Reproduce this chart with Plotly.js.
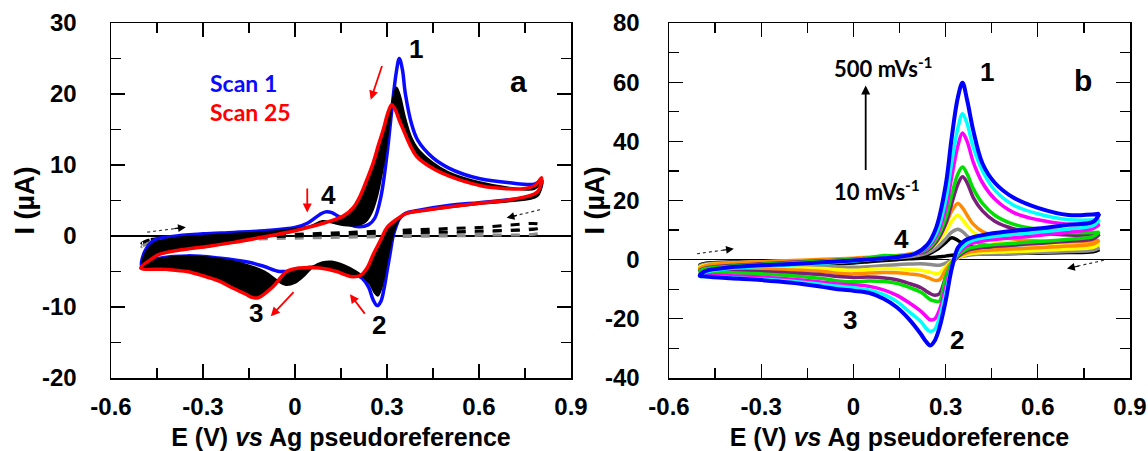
<!DOCTYPE html>
<html><head><meta charset="utf-8">
<script src="https://cdn.plot.ly/plotly-3.0.1.min.js"></script>
<style>html,body{margin:0;padding:0;background:#fff}#chart{width:1148px;height:451px}</style>
</head><body><div id="chart"></div>
<script>
// ---------- Panel a : repetitive scans ----------
const scan1E = [-0.5,-0.49,-0.46,-0.4,-0.3,-0.2,-0.1,0,0.04,0.08,0.1,0.12,0.15,0.18,0.21,0.24,0.26,0.28,0.3,0.315,0.33,0.34,0.35,0.36,0.38,0.4,0.45,0.5,0.55,0.6,0.7,0.78,0.805,0.79,0.75,0.7,0.6,0.5,0.4,0.36,0.34,0.33,0.32,0.31,0.3,0.29,0.28,0.268,0.255,0.24,0.22,0.2,0.15,0.1,0.05,0,-0.05,-0.1,-0.15,-0.25,-0.35,-0.45,-0.48,-0.5];
const scan1I = [-4.2,-2.2,-0.6,-0.05,0.3,0.5,0.75,1.2,1.8,3.0,3.4,3.3,2.5,1.6,1.3,1.6,2.5,5.5,11.5,17.5,23,25,23.5,20,15.8,13.5,11,9.6,8.7,8.1,7.5,7.3,7.8,6.0,5.4,5.1,4.7,4.3,3.6,3.2,2.4,1.4,0,-2.5,-5,-7.5,-9.2,-9.8,-9.0,-7.2,-6.0,-5.4,-4.6,-4.2,-4.4,-4.8,-5.0,-4.3,-3.7,-3.1,-2.8,-3.2,-3.7,-4.2];

const scan2E = [-0.5,-0.49,-0.46,-0.4,-0.3,-0.2,-0.1,0,0.05,0.09,0.12,0.16,0.2,0.23,0.25,0.27,0.29,0.305,0.32,0.331,0.342,0.36,0.38,0.4,0.45,0.5,0.6,0.7,0.78,0.805,0.79,0.7,0.6,0.5,0.4,0.36,0.34,0.325,0.31,0.3,0.29,0.28,0.27,0.26,0.245,0.225,0.2,0.16,0.12,0.09,0.06,0.03,0,-0.03,-0.06,-0.1,-0.17,-0.25,-0.35,-0.45,-0.48,-0.5];
const scan2I = [-4.3,-2.6,-1.0,-0.35,0.05,0.3,0.55,1.0,1.4,2.1,1.9,1.5,1.5,2.0,3.3,6.0,10.5,15.0,19.5,20.9,19.8,16.5,13.8,12.3,10.3,9.0,7.6,6.8,6.6,7.6,5.6,4.9,4.5,4.0,3.4,3.1,2.4,1.0,-1.5,-3.5,-5.8,-7.6,-8.4,-8.0,-6.8,-5.8,-5.0,-4.1,-3.6,-3.7,-4.3,-5.6,-6.6,-6.9,-6.2,-5.0,-3.9,-3.2,-2.9,-3.3,-3.8,-4.3];

const scan25E = [-0.503,-0.47,-0.443,-0.38,-0.28,-0.2,-0.117,0,0.05,0.1,0.157,0.19,0.212,0.235,0.255,0.272,0.288,0.302,0.315,0.327,0.34,0.353,0.375,0.397,0.45,0.505,0.56,0.614,0.68,0.744,0.785,0.804,0.79,0.7,0.6,0.5,0.42,0.364,0.33,0.3,0.28,0.255,0.235,0.215,0.19,0.16,0.136,0.08,0.016,-0.027,-0.071,-0.12,-0.14,-0.16,-0.2,-0.245,-0.3,-0.353,-0.42,-0.503];
const scan25I = [-4.5,-3.3,-2.6,-2.0,-1.43,-0.9,-0.25,0.75,1.3,1.9,2.8,4.0,5.6,8.0,10.3,12.8,15,17.2,18.5,17.8,16.3,15,12.8,11.2,9.5,8.4,7.6,7.0,6.7,6.65,7.2,8.2,6.2,5.1,4.6,4.1,3.6,3.2,2.3,1.2,-0.5,-2.6,-4.5,-5.5,-5.75,-5.4,-5.0,-4.5,-4.5,-5.0,-7.1,-8.7,-8.65,-8.2,-7.4,-6.4,-5.6,-5.0,-4.7,-4.5];

const blankE = [-0.5,-0.47,-0.4,-0.2,0,0.2,0.4,0.6,0.8,0.8,0.6,0.4,0.2,0,-0.2,-0.4,-0.47,-0.5];
const blankBlackI = [-1.0,-0.5,-0.25,0.0,0.25,0.55,0.9,1.2,1.6,1.2,0.7,0.5,0.3,0.0,-0.25,-0.5,-0.7,-1.0];
const blankGrayI = [-1.5,-0.9,-0.6,-0.35,-0.15,0.05,0.2,0.45,0.9,0.5,0.1,-0.05,-0.15,-0.3,-0.5,-0.8,-1.1,-1.5];

// ---------- Panel b : scan rates 10 - 500 mV/s ----------
const rateEfwd = [-0.5,-0.48,-0.4,-0.3,-0.2,-0.1,0,0.05,0.1,0.15,0.2,0.24,0.27,0.3,0.32,0.34,0.355,0.37,0.39,0.42,0.46,0.52,0.6,0.7,0.8];
const rateErev = [0.8,0.78,0.7,0.6,0.5,0.42,0.38,0.36,0.34,0.32,0.3,0.28,0.265,0.25,0.235,0.22,0.18,0.14,0.1,0.05,0,-0.05,-0.1,-0.2,-0.3,-0.4,-0.48,-0.5];
const rateColors = ['#000000','#8c8c8c','#ffff00','#ff8c00','#7a1f7a','#00e000','#ff00ff','#00ffff','#0000ff'];
const rateFwd = [
 [-1.8,-1.2,-0.8,-0.6,-0.5,-0.7,-0.5,-0.2,0.1,0.4,0.9,1.7,3.3,5.8,7.4,6.5,5.5,4.8,4.2,3.6,3.2,3.0,2.9,2.9,3.4],
 [-2.0,-1.5,-1.0,-0.7,-0.5,-0.3,-0.1,0.1,0.4,0.7,1.2,2.2,4,7,9.3,10.3,9.5,8,6.5,5.2,4.4,4.0,3.7,3.6,4.0],
 [-2.5,-1.8,-1.2,-0.8,-0.5,-0.2,0.2,0.5,0.8,1.2,1.8,3,5.5,9.5,13,15,13.5,11.5,9.3,7.5,6.2,5.5,5.0,4.8,5.3],
 [-3.0,-2.0,-1.2,-0.7,-0.3,0.1,0.5,0.8,1.1,1.5,2.3,3.8,7,12,16.5,19,17.5,15,12,9.5,8,7,6.3,6.0,6.5],
 [-3.6,-2.8,-2.0,-1.4,-0.9,-0.4,0.1,0.5,0.9,1.1,1.8,3,6,12,19,25.5,28,26,21,16.5,13,10.5,9.2,8.3,8.5],
 [-4.0,-3.0,-2.2,-1.6,-1.1,-0.5,0.1,0.6,1.4,1.2,2.0,3.5,7,14,22,29,31.3,29,24,19,15,12,10.3,9.2,9.3],
 [-5.0,-3.8,-2.7,-2.0,-1.5,-1.0,-0.3,0.1,0.5,1.0,2.0,4,8,17,28,38.5,42.8,40,33,26,20.5,16,13.5,12,12],
 [-5.6,-4.2,-3.0,-2.3,-1.8,-1.2,-0.5,0,0.5,1.0,2.0,4.5,9,20,33,44.5,49.3,46,38,30,23.5,18.5,15.5,13.5,13.5],
 [-5.4,-3.8,-2.6,-1.9,-1.45,-0.9,-0.3,0.1,0.5,1.0,2.0,5.0,11,25,41.4,54.9,59.8,54,43.7,32.5,26,21,17.5,15.1,15.5]
];
const rateRev = [
 [3.4,2.7,2.4,2.2,2.0,1.9,1.9,1.8,1.8,1.5,1.2,1.0,0.8,0.7,0.6,0.5,0.3,0.0,-0.3,-0.7,-1.1,-1.3,-1.1,-1.0,-1.1,-1.3,-1.6,-1.8],
 [4.0,3.2,2.8,2.4,2.1,1.9,1.6,1.2,0.6,-0.2,-1.2,-1.9,-1.8,-1.6,-1.5,-1.4,-1.5,-1.7,-2.0,-2.4,-2.6,-2.4,-2.0,-1.9,-1.9,-1.9,-2.0,-2.0],
 [5.3,4.2,3.6,3.1,2.7,2.4,2.0,1.5,0.6,-0.6,-2.5,-4.5,-4.6,-4.2,-3.9,-3.6,-3.3,-3.1,-3.0,-3.3,-3.6,-3.4,-3.0,-2.7,-2.6,-2.5,-2.5,-2.5],
 [6.5,5.3,4.6,4.0,3.5,3.1,2.6,2.0,1.0,-0.8,-3.5,-6.8,-7,-6.4,-5.8,-5.3,-4.8,-4.4,-4.3,-4.5,-4.8,-4.6,-4.0,-3.5,-3.3,-3.1,-3.0,-3.0],
 [8.5,7.0,6.2,5.5,4.8,4.2,3.5,2.5,1.0,-1.5,-6,-11.5,-12,-11.5,-10.5,-9.5,-8.0,-6.8,-6.2,-5.9,-6.0,-5.7,-5.1,-4.5,-4.1,-3.8,-3.6,-3.6],
 [9.3,7.8,6.9,6.1,5.4,4.7,4.0,3.0,1.5,-1,-6,-14.0,-14.0,-13.5,-12.2,-11,-9.3,-8.0,-7.4,-7.2,-7.5,-7.2,-6.4,-5.4,-4.8,-4.4,-4.1,-4.0],
 [12,10.5,9.3,8.2,7.2,6.3,5.3,4.0,2,-2,-9.5,-17,-20,-20.3,-19,-17.5,-14.5,-12,-10.3,-9.0,-8.5,-8.2,-7.6,-6.6,-5.9,-5.4,-5.1,-5.0],
 [13.5,11.5,10.4,9.3,8.3,7.3,6.2,4.8,2.5,-2.5,-11.5,-19.5,-23.5,-24.3,-23,-21,-17.5,-14,-11.8,-10.2,-9.5,-9.0,-8.4,-7.3,-6.6,-6.1,-5.7,-5.6],
 [15.5,12.8,11.8,10.5,9.5,8.3,7.3,6.3,4.0,-3,-14,-23,-27.3,-29,-27.5,-25.2,-20,-16,-13.3,-11.2,-10.5,-10.0,-9.2,-7.8,-6.9,-6.3,-5.7,-5.4]
];

// ---------- axes ticks ----------
const tickX = [-0.6,-0.3,0,0.3,0.6,0.9];
const tickXText = ['-0.6','-0.3','0','0.3','0.6','0.9'];
const minorX = [-0.45,-0.15,0.15,0.45,0.75];
const tickYa = [-20,-10,0,10,20,30];
const tickYaText = ['-20','-10','0','10','20','30'];
const minorYa = [-15,-5,5,15,25];
const tickYb = [-40,-20,0,20,40,60,80];
const tickYbText = ['-40','-20','0','20','40','60','80'];
const minorYb = [-30,-10,10,30,50,70];

const FONT = 'Liberation Sans, Arial, sans-serif';
const traces = [];
traces.push({x: blankE, y: blankGrayI, xaxis:'x', yaxis:'y', mode:'lines', line:{color:'#8a8a8a', width:3, dash:'dash', shape:'spline'}, hoverinfo:'skip'});
traces.push({x: blankE, y: blankBlackI, xaxis:'x', yaxis:'y', mode:'lines', line:{color:'#000', width:3, dash:'dash', shape:'spline'}, hoverinfo:'skip'});
traces.push({x: scan1E, y: scan1I, xaxis:'x', yaxis:'y', mode:'lines', line:{color:'#0a0aff', width:3.5, shape:'spline'}, hoverinfo:'skip'});
traces.push({x: scan2E.concat(scan25E.slice().reverse()), y: scan2I.concat(scan25I.slice().reverse()),
  xaxis:'x', yaxis:'y', mode:'lines', fill:'toself', fillcolor:'#000', line:{color:'#000', width:2, shape:'spline'}, hoverinfo:'skip'});
traces.push({x: scan25E, y: scan25I, xaxis:'x', yaxis:'y', mode:'lines', line:{color:'#ff0000', width:3.5, shape:'spline'}, hoverinfo:'skip'});

for (let k = 0; k < rateColors.length; k++) {
  traces.push({x: rateEfwd.concat(rateErev), y: rateFwd[k].concat(rateRev[k]), xaxis:'x2', yaxis:'y2', mode:'lines',
    line:{color: rateColors[k], width: k === rateColors.length-1 ? 4 : 3.5, shape:'spline'}, hoverinfo:'skip'});
}

function xAxis(domain, anchor) {
  return {domain: domain, anchor: anchor, range:[-0.6,0.9], tickmode:'array', tickvals: tickX, ticktext: tickXText,
    ticks:'inside', ticklen:14, tickwidth:1.3, tickcolor:'#000', showline:true, linecolor:'#000', linewidth:1.5,
    mirror:'ticks', showgrid:false, zeroline:false, ticklabelstandoff:7,
    tickfont:{family: FONT, size:24, color:'#000', weight:'bold'},
    minor:{tickvals: minorX, ticks:'inside', ticklen:10, tickwidth:1.3, tickcolor:'#000', showgrid:false},
    title:{text:'E (V) <i>vs</i> Ag pseudoreference', font:{family: FONT, size:25, color:'#000', weight:'bold'}, standoff:22}};
}
function yAxis(anchor, range, tv, tt, mv, lso) {
  return {domain:[0,1], anchor: anchor, range: range, tickmode:'array', tickvals: tv, ticktext: tt,
    ticks:'inside', ticklen:14, tickwidth:1.3, tickcolor:'#000', showline:true, linecolor:'#000', linewidth:1.5,
    mirror:'ticks', showgrid:false, zeroline:true, zerolinecolor:'#000', zerolinewidth:1.2, ticklabelstandoff: lso,
    tickfont:{family: FONT, size:24, color:'#000', weight:'bold'},
    minor:{tickvals: mv, ticks:'inside', ticklen:10, tickwidth:1.3, tickcolor:'#000', showgrid:false}};
}

function lbl(xr, yr, x, y, t, size, color, fam, xanchor) {
  return {xref: xr, yref: yr, x: x, y: y, text: t, showarrow:false, xanchor: xanchor || 'center', yanchor:'middle',
    font:{family: fam || FONT, size: size, color: color || '#000', weight:'bold'}};
}
function arr(xr, yr, x0, y0, x1, y1, color, width, size) {
  return {xref: xr, yref: yr, axref: xr, ayref: yr, x: x1, y: y1, ax: x0, ay: y0, text:' ', showarrow:true,
    arrowhead:2, arrowsize: size || 1, arrowwidth: width, arrowcolor: color, font:{size:4}};
}
function ytitle(xp) {
  return {xref:'paper', yref:'paper', x: xp, y: 0.5, text:'I (µA)', textangle:-90, showarrow:false,
    xanchor:'center', yanchor:'middle', font:{family: FONT, size:27, color:'#000', weight:'bold'}};
}

const annotations = [
  ytitle(24/1148), ytitle(594/1148),
  lbl('x','y',0.393,26.3,'1',26), lbl('x','y',0.275,-12.5,'2',26), lbl('x','y',-0.126,-10.8,'3',26), lbl('x','y',0.11,5.8,'4',26),
  lbl('x','y',0.728,21.8,'a',30),
  lbl('x','y',-0.284,21.6,'Scan 1',23,'#0a0aff','Lato, sans-serif','left'),
  lbl('x','y',-0.284,17.4,'Scan 25',23,'#ff0000','Lato, sans-serif','left'),
  arr('x','y',0.288,24.5,0.247,19.2,'#ff0000',1.8),
  arr('x','y',0.04,7.25,0.04,3.3,'#ff0000',1.8),
  arr('x','y',0.002,-7.6,-0.079,-11.3,'#ff0000',1.8),
  arr('x','y',0.234,-11.3,0.179,-8.2,'#ff0000',1.8),
  arr('x','y',-0.40,1.0,-0.356,1.24,'#000',1.2,1.3),
  arr('x','y',0.73,2.98,0.69,2.56,'#000',1.2,1.3),
  lbl('x2','y2',0.434,63.4,'1',26), lbl('x2','y2',0.337,-27.3,'2',26), lbl('x2','y2',-0.01,-20.5,'3',26), lbl('x2','y2',0.157,7.1,'4',26),
  lbl('x2','y2',0.748,60.6,'b',30),
  lbl('x2','y2',-0.07,65.1,'500 mVs<sup>-1</sup>',22,'#000','Lato, sans-serif','left'),
  lbl('x2','y2',-0.07,23.4,'10 mVs<sup>-1</sup>',22,'#000','Lato, sans-serif','left'),
  arr('x2','y2',0.04,29,0.04,58.9,'#000',1.8),
  arr('x2','y2',-0.43,3.1,-0.389,3.7,'#000',1.2,1.3),
  arr('x2','y2',0.74,-2.0,0.695,-3.0,'#000',1.2,1.3)
];
const shapes = [
  {type:'line', xref:'x', yref:'y', x0:-0.482, y0:0.54, x1:-0.37, y1:1.16, line:{color:'#333', width:1.2, dash:'dot'}},
  {type:'line', xref:'x', yref:'y', x0:0.799, y0:3.7, x1:0.705, y1:2.72, line:{color:'#333', width:1.2, dash:'dot'}},
  {type:'line', xref:'x2', yref:'y2', x0:-0.509, y0:2.0, x1:-0.40, y1:3.55, line:{color:'#333', width:1.2, dash:'dot'}},
  {type:'line', xref:'x2', yref:'y2', x0:0.815, y0:-0.2, x1:0.71, y1:-2.65, line:{color:'#333', width:1.2, dash:'dot'}}
];

const layout = {
  width:1148, height:451, margin:{l:0, r:0, t:23, b:73}, showlegend:false,
  paper_bgcolor:'#fff', plot_bgcolor:'#fff',
  xaxis: xAxis([111/1148, 571/1148], 'y'),
  yaxis: yAxis('x', [-20,30], tickYa, tickYaText, minorYa, 28),
  xaxis2: xAxis([669/1148, 1130/1148], 'y2'),
  yaxis2: yAxis('x2', [-40,80], tickYb, tickYbText, minorYb, 23),
  annotations: annotations, shapes: shapes
};
Plotly.newPlot('chart', traces, layout, {staticPlot:true, displayModeBar:false});
</script></body></html>
